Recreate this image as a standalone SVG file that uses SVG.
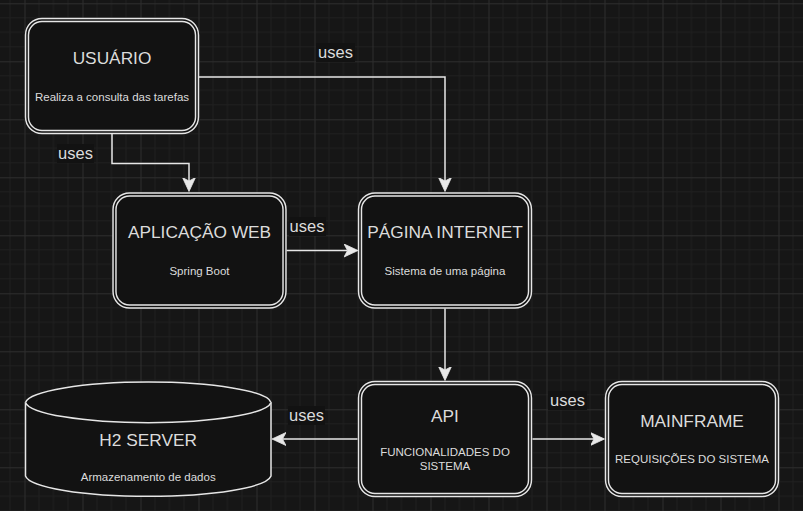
<svg xmlns="http://www.w3.org/2000/svg" width="803" height="511" viewBox="0 0 803 511">
  <defs>
    <pattern id="grid" x="24.5" y="3.3" width="58" height="58" patternUnits="userSpaceOnUse">
      <path d="M14.5,0 V58 M29,0 V58 M43.5,0 V58 M0,14.5 H58 M0,29 H58 M0,43.5 H58" stroke="#202020" stroke-width="1" fill="none"/>
      <path d="M0.5,0 V58 M0,0.5 H58" stroke="#2e2e2e" stroke-width="1" fill="none"/>
    </pattern>
    <marker id="arrow" viewBox="0 -7 15 14" markerWidth="15" markerHeight="14" refX="3.5" refY="0" orient="auto" markerUnits="userSpaceOnUse">
      <path d="M14,0 L0,-6.5 L3.5,0 L0,6.5 Z" fill="#e8e8e8" stroke="#e8e8e8" stroke-width="0.8" stroke-linejoin="miter"/>
    </marker>
  </defs>
  <style>
    .box { fill: #121212; stroke: #e6e6e6; stroke-width: 4.4; }
    .gap { fill: none; stroke: #121212; stroke-width: 1.5; }
    .cyl { fill: #121212; stroke: #e6e6e6; stroke-width: 1.5; }
    .edge { fill: none; stroke: #e6e6e6; stroke-width: 1.5; marker-end: url(#arrow); }
    .title { font-family: "Liberation Sans", Arial, sans-serif; font-size: 17.3px; fill: #dcdcdc; text-anchor: middle; }
    .sub { font-family: "Liberation Sans", Arial, sans-serif; font-size: 11.5px; fill: #dcdcdc; text-anchor: middle; }
    .lbl { font-family: "Liberation Sans", Arial, sans-serif; font-size: 16.5px; fill: #dcdcdc; text-anchor: middle; }
    .lblbg { fill: #121212; }
  </style>
  <rect x="0" y="0" width="803" height="511" fill="#161616"/>
  <rect x="0" y="0" width="803" height="511" fill="url(#grid)"/>

  <g id="connectors">
    <path class="edge" d="M112,134 V163.5 H189 V181"/>
    <path class="edge" d="M199,77 H445 V181"/>
    <path class="edge" d="M286.5,250.5 H347.5"/>
    <path class="edge" d="M445,308.5 V370"/>
    <path class="edge" d="M357.5,439 H282.5"/>
    <path class="edge" d="M532.5,439 H594"/>
    <g id="labels">
      <rect class="lblbg" x="57" y="144" width="37" height="19"/>
      <text class="lbl" x="75.5" y="159">uses</text>
      <rect class="lblbg" x="316" y="43" width="39" height="19"/>
      <text class="lbl" x="335.5" y="58">uses</text>
      <rect class="lblbg" x="289" y="217" width="37" height="19"/>
      <text class="lbl" x="307" y="232">uses</text>
      <rect class="lblbg" x="288" y="406" width="37" height="19"/>
      <text class="lbl" x="306.5" y="421">uses</text>
      <rect class="lblbg" x="548" y="391" width="39" height="19"/>
      <text class="lbl" x="567.5" y="406">uses</text>
    </g>
  </g>

  <g id="usuario">
    <rect class="box" x="27" y="20" width="170" height="112" rx="15"/>
    <rect class="gap" x="27" y="20" width="170" height="112" rx="15"/>
    <text class="title" x="112" y="63.5">USUÁRIO</text>
    <text class="sub" x="112" y="101">Realiza a consulta das tarefas</text>
  </g>

  <g id="aplicacao-web">
    <rect class="box" x="114.5" y="194.5" width="170" height="112" rx="15"/>
    <rect class="gap" x="114.5" y="194.5" width="170" height="112" rx="15"/>
    <text class="title" x="199.5" y="238">APLICAÇÃO WEB</text>
    <text class="sub" x="199.5" y="275">Spring Boot</text>
  </g>

  <g id="pagina-internet">
    <rect class="box" x="360" y="194.5" width="170" height="112" rx="15"/>
    <rect class="gap" x="360" y="194.5" width="170" height="112" rx="15"/>
    <text class="title" x="445" y="238">PÁGINA INTERNET</text>
    <text class="sub" x="445" y="275">Sistema de uma página</text>
  </g>

  <g id="api">
    <rect class="box" x="360" y="383" width="170" height="112" rx="15"/>
    <rect class="gap" x="360" y="383" width="170" height="112" rx="15"/>
    <text class="title" x="445" y="421.5">API</text>
    <text class="sub" x="445" y="456">FUNCIONALIDADES DO</text>
    <text class="sub" x="445" y="469.5">SISTEMA</text>
  </g>

  <g id="mainframe">
    <rect class="box" x="607" y="383" width="170" height="112" rx="15"/>
    <rect class="gap" x="607" y="383" width="170" height="112" rx="15"/>
    <text class="title" x="692" y="426.5">MAINFRAME</text>
    <text class="sub" x="692" y="462.5">REQUISIÇÕES DO SISTEMA</text>
  </g>

  <g id="h2-server">
    <path class="cyl" d="M25.5,402.4 A123,21.7 0 0 1 271,402.4 V476 A123,21.7 0 0 1 25.5,476 Z"/>
    <path class="cyl" fill="none" d="M25.5,402.4 A123,21.7 0 0 0 271,402.4"/>
    <text class="title" x="148.2" y="446">H2 SERVER</text>
    <text class="sub" x="148.2" y="481">Armazenamento de dados</text>
  </g>
</svg>
